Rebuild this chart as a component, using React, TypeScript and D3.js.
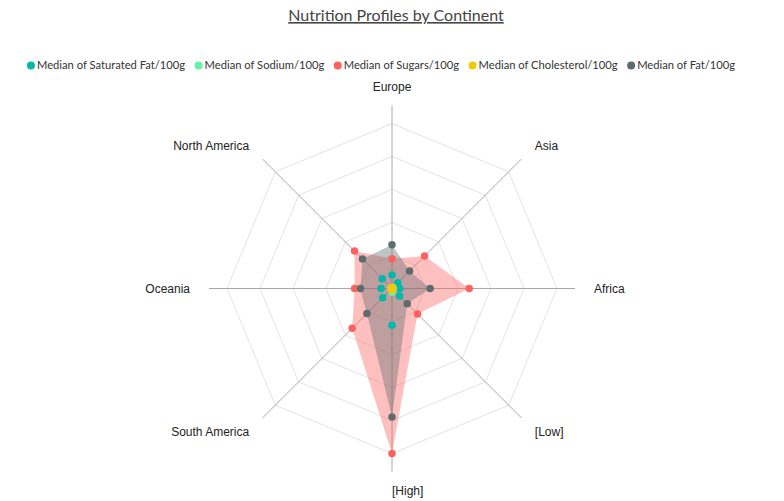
import React, { useEffect, useRef } from "react";
import * as d3 from "d3";

const categories = ["Europe", "Asia", "Africa", "[Low]", "[High]", "South America", "Oceania", "North America"];
const seriesNames = [
  "Median of Saturated Fat/100g",
  "Median of Sodium/100g",
  "Median of Sugars/100g",
  "Median of Cholesterol/100g",
  "Median of Fat/100g",
];
const satFat = [4.1, 2.5, 2.3, 3.2, 11.1, 4.0, 3.3, 4.2];
const sodium = [0.3, 0.4, 0.3, 0.4, 1.1, 0.3, 0.3, 0.4];
const sugars = [9.0, 13.9, 23.3, 10.9, 49.8, 17.0, 11.3, 16.0];
const cholesterol = [0.2, 0.3, 0.2, 0.3, 0.4, 0.2, 0.3, 0.2];
const fat = [13.2, 7.5, 11.5, 6.5, 38.8, 10.7, 9.5, 12.6];
const colors = ["#01B8AA", "#66F2A8", "#FD625E", "#F2C80F", "#5F6B6D"];
const filled = [false, false, true, false, true];

const W = 784, H = 501;

export default function App() {
  const ref = useRef<SVGSVGElement>(null);
  useEffect(() => {
    const svg = d3.select(ref.current);
    svg.selectAll("*").remove();
    const seriesValues = [satFat, sodium, sugars, cholesterol, fat];
    const cx = 392, cy = 288.5, R = 165;
    const maxV = d3.max(seriesValues.flat()) as number;
    const r = d3.scaleLinear().domain([0, maxV]).range([0, R]);
    const angle = d3.scaleLinear().domain([0, categories.length]).range([0, 2 * Math.PI]);

    // title
    svg.append("text")
      .attr("x", 396).attr("y", 21)
      .attr("text-anchor", "middle")
      .style("font-family", "'Segoe UI', Lato, sans-serif")
      .style("font-size", "16px")
      .style("text-decoration", "underline")
      .attr("fill", "#444")
      .text("Nutrition Profiles by Continent");

    // legend
    const lg = svg.append("g");
    let x = 0;
    seriesNames.forEach((name, i) => {
      const g = lg.append("g").attr("transform", `translate(${x},0)`);
      g.append("circle").attr("cx", 4).attr("cy", 0).attr("r", 4).attr("fill", colors[i]);
      const t = g.append("text").attr("x", 10).attr("y", 0).attr("dy", "0.35em")
        .style("font-family", "'Segoe UI', Lato, sans-serif").style("font-size", "11.2px")
        .attr("fill", "#333").text(name);
      const w = (t.node() as SVGTextElement).getComputedTextLength();
      x += 10 + w + 9.5;
    });
    const total = x - 9.5;
    lg.attr("transform", `translate(${381 - total / 2},65.5)`);

    const chart = svg.append("g").attr("transform", `translate(${cx},${cy})`);
    // grid rings
    const levels = 5;
    for (let l = 1; l <= levels; l++) {
      const rr = (R * l) / levels;
      const pts = categories.map((_, i) => [rr * Math.sin(angle(i)), -rr * Math.cos(angle(i))]);
      chart.append("polygon").attr("points", pts.map(p => p.join(",")).join(" "))
        .attr("fill", "none").attr("stroke", "#e3e3e3").attr("stroke-width", 1);
    }
    // axes
    categories.forEach((c, i) => {
      const a = angle(i);
      chart.append("line").attr("x1", 0).attr("y1", 0)
        .attr("x2", (R + 18) * Math.sin(a)).attr("y2", -(R + 18) * Math.cos(a))
        .attr("stroke", "#a8a8a8").attr("stroke-width", 1);
      const lr = R + 37;
      const lx = lr * Math.sin(a), ly = -lr * Math.cos(a);
      const anchor = i === 0 ? "middle" : Math.sin(a) >= 0 ? "start" : "end";
      chart.append("text").attr("x", lx).attr("y", ly).attr("dy", "0.35em")
        .attr("text-anchor", anchor)
        .style("font-family", "'Liberation Sans', Arial, sans-serif").style("font-size", "12px")
        .attr("fill", "#222").text(c);
    });

    const line = d3.lineRadial<number>()
      .angle((_, i) => angle(i))
      .radius(d => r(d))
      .curve(d3.curveLinearClosed);

    // areas
    const drawOrder = [2, 4, 0, 1, 3];
    drawOrder.forEach(s => {
      if (!filled[s]) return;
      chart.append("path").attr("d", line(seriesValues[s]) as string)
        .attr("fill", colors[s]).attr("fill-opacity", 0.4).attr("stroke", "none");
    });
    // dots
    [2, 4, 0, 1, 3].forEach(s => {
      seriesValues[s].forEach((v, i) => {
        const a = angle(i);
        chart.append("circle")
          .attr("cx", r(v) * Math.sin(a)).attr("cy", -r(v) * Math.cos(a))
          .attr("r", 3.75).attr("fill", colors[s]);
      });
    });
  }, []);
  return (
    <svg ref={ref} width={W} height={H} style={{ position: "absolute", left: 0, top: 0, background: "#fff" }} />
  );
}
